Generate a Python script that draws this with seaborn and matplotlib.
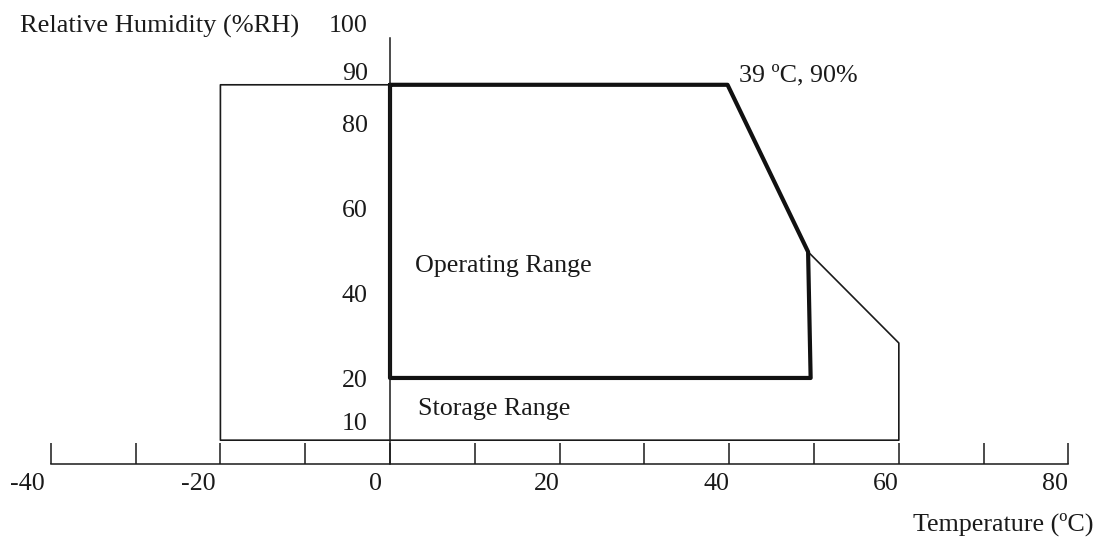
import matplotlib
matplotlib.use('Agg')
import matplotlib.pyplot as plt
import matplotlib.transforms as mtransforms
import seaborn as sns

# Operating range outline (temperature degC, relative humidity %)
oper_temp = [0, 39.8, 49.3, 49.6, 0, 0]
oper_rh = [89, 89, 49.8, 20.2, 20.2, 89]

# Storage range outline
stor_temp = [0, -20, -20, 60, 60, 49.3]
stor_rh = [89, 89, 5.6, 5.6, 28.4, 49.8]

# Axis ticks / labels
x_ticks = [-40, -30, -20, -10, 0, 10, 20, 30, 40, 50, 60, 70, 80]
x_labels = [-40, -20, 0, 20, 40, 60, 80]
y_ticks = [40, 60, 80, 100]
y_labels = [10, 20, 40, 60, 80, 90, 100]

sns.set_theme(style='white')
plt.rcParams['font.family'] = ['Liberation Serif', 'DejaVu Serif']

ink = '#1a1a1a'
fs = 18.7

fig = plt.figure(figsize=(10.96, 5.45), dpi=100)
ax = fig.add_axes([0, 0, 1, 1])

sns.lineplot(x=stor_temp, y=stor_rh, sort=False, estimator=None,
             color=ink, linewidth=1.2, ax=ax)
sns.lineplot(x=oper_temp, y=oper_rh, sort=False, estimator=None,
             color='#111111', linewidth=3.0, ax=ax)

ax.set_xlim(-45.99, 83.25)
ax.set_ylim(-19.0, 108.9)

# spines crossing at (0, 0)
for side in ['top', 'right']:
    ax.spines[side].set_visible(False)
ax.spines['left'].set_position(('data', 0))
ax.spines['bottom'].set_position(('data', 0))
ax.spines['left'].set_bounds(0, 100)
ax.spines['bottom'].set_bounds(-40, 80)
for side in ['left', 'bottom']:
    ax.spines[side].set_color(ink)
    ax.spines[side].set_linewidth(1.1)

# x axis
ax.set_xticks(x_labels, labels=[str(v) for v in x_labels])
ax.set_xticks(x_ticks, minor=True)
ax.tick_params(axis='x', which='both', bottom=True, direction='in',
               length=15, width=1.1, color=ink, pad=6.5,
               labelsize=fs, labelcolor=ink)
x_nudge = {'-40': -6, '-20': -5, '0': -8}
for lbl in ax.get_xticklabels():
    lbl.set_ha('right')
    dx = x_nudge.get(lbl.get_text(), 0)
    lbl.set_transform(lbl.get_transform() +
                      mtransforms.ScaledTranslation(dx / 100, 0, fig.dpi_scale_trans))

# y axis
ax.set_yticks(y_labels, labels=[str(v) for v in y_labels])
ax.set_yticks(y_ticks, minor=True)
ax.tick_params(axis='y', which='major', left=True, direction='in',
               length=0, pad=16, labelsize=fs, labelcolor=ink)
ax.tick_params(axis='y', which='minor', left=True, direction='in',
               length=14.5, width=1.1, color=ink)
y_nudge = {'100': 14, '90': 9}
for lbl in ax.get_yticklabels():
    dy = y_nudge.get(lbl.get_text(), 0)
    lbl.set_transform(lbl.get_transform() +
                      mtransforms.ScaledTranslation(0, dy / 100, fig.dpi_scale_trans))

# annotations
ax.text(-43.6, 101.2, 'Relative Humidity (%RH)', fontsize=fs + 0.3, color=ink,
        ha='left', va='baseline')
ax.text(83.0, -15.5, 'Temperature (ºC)', fontsize=fs, color=ink,
        ha='right', va='baseline')
ax.text(41.2, 89.7, '39 ºC, 90%', fontsize=fs, color=ink,
        ha='left', va='baseline')
ax.text(2.9, 45.1, 'Operating Range', fontsize=fs, color=ink,
        ha='left', va='baseline')
ax.text(3.3, 11.5, 'Storage Range', fontsize=fs, color=ink,
        ha='left', va='baseline')

ax.grid(False)
fig.savefig('out.png', dpi=100)
